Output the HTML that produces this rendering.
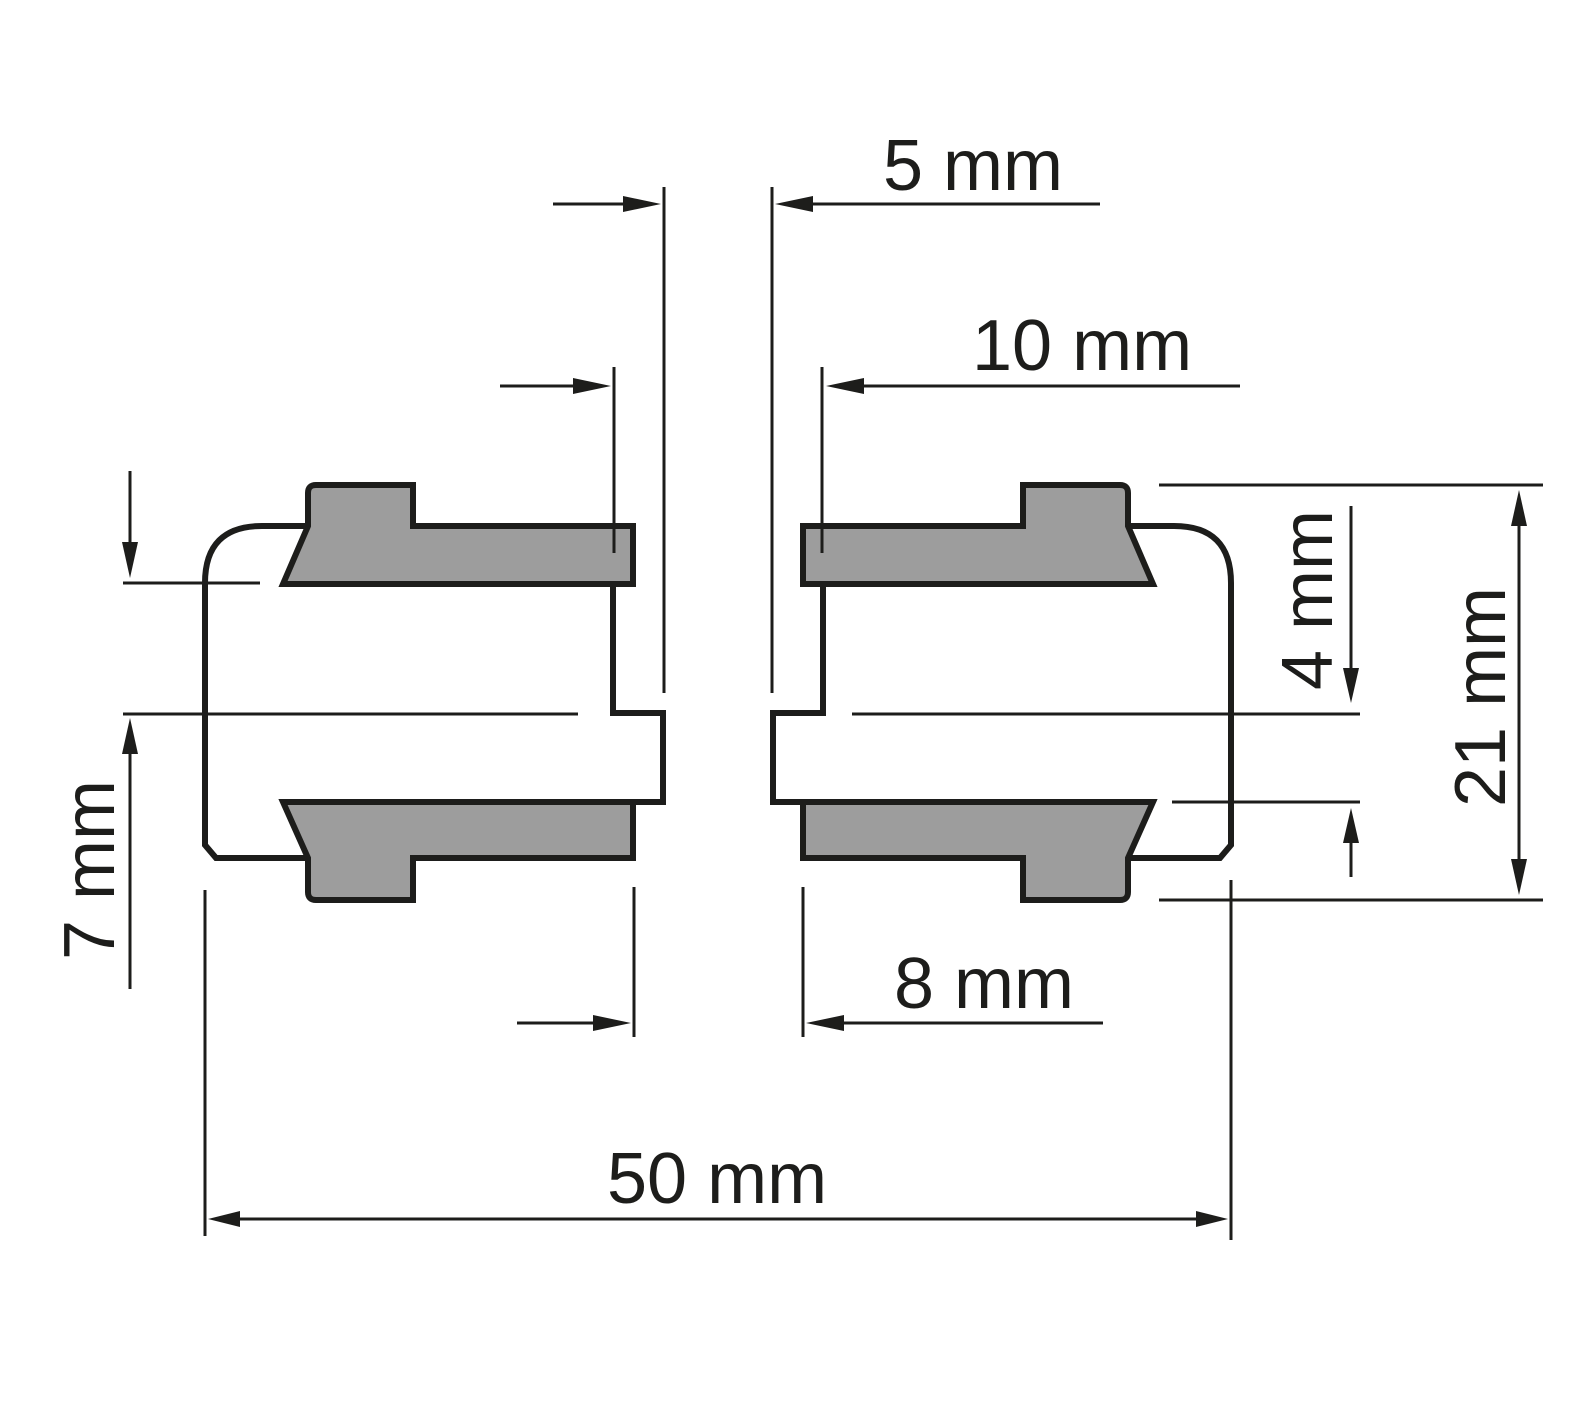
<!DOCTYPE html>
<html><head><meta charset="utf-8"><style>html,body{margin:0;padding:0;background:#fff}svg{display:block}</style></head>
<body>
<svg width="1593" height="1416" viewBox="0 0 1593 1416" xmlns="http://www.w3.org/2000/svg">
<defs>
<g id="piece">
<path d="M316,485 L413,485 L413,526 L633,526 L633,584 L283,584 L308,526 L308,493 Q308,485 316,485 Z" fill="#9d9d9d" stroke="#1d1d1b" stroke-width="6" stroke-linejoin="miter"/>
<path d="M283,802 L633,802 L633,858 L413,858 L413,900 L316,900 Q308,900 308,892 L308,858 Z" fill="#9d9d9d" stroke="#1d1d1b" stroke-width="6"/>
<path d="M308,526 L262,526 Q205,526 205,583 L205,845 L216,858 L308,858" fill="none" stroke="#1d1d1b" stroke-width="6"/>
<path d="M613,584 L613,713 L663,713 L663,802 L633,802" fill="none" stroke="#1d1d1b" stroke-width="6"/>
</g>
</defs>
<use href="#piece"/>
<use href="#piece" transform="translate(1436,0) scale(-1,1)"/>
<g stroke="#1d1d1b" stroke-width="3" fill="none">
<!-- center & extension lines -->
<line x1="123" y1="714" x2="578" y2="714"/>
<line x1="852" y1="714" x2="1360" y2="714"/>
<line x1="123" y1="583" x2="260" y2="583"/>
<line x1="1172" y1="802" x2="1360" y2="802"/>
<line x1="1159" y1="485" x2="1543" y2="485"/>
<line x1="1159" y1="900" x2="1543" y2="900"/>
<!-- verticals -->
<line x1="664" y1="187" x2="664" y2="693"/>
<line x1="772" y1="187" x2="772" y2="693"/>
<line x1="614" y1="367" x2="614" y2="553"/>
<line x1="822" y1="367" x2="822" y2="553"/>
<line x1="634" y1="887" x2="634" y2="1037"/>
<line x1="803" y1="887" x2="803" y2="1037"/>
<line x1="205" y1="890" x2="205" y2="1236"/>
<line x1="1231" y1="880" x2="1231" y2="1240"/>
<!-- dim lines -->
<line x1="553" y1="204" x2="640" y2="204"/>
<line x1="790" y1="204" x2="1100" y2="204"/>
<line x1="500" y1="386" x2="590" y2="386"/>
<line x1="840" y1="386" x2="1240" y2="386"/>
<line x1="517" y1="1023" x2="615" y2="1023"/>
<line x1="820" y1="1023" x2="1103" y2="1023"/>
<line x1="225" y1="1219" x2="1210" y2="1219"/>
<line x1="130" y1="471" x2="130" y2="560"/>
<line x1="130" y1="740" x2="130" y2="989"/>
<line x1="1351" y1="506" x2="1351" y2="685"/>
<line x1="1351" y1="825" x2="1351" y2="877"/>
<line x1="1519" y1="510" x2="1519" y2="875"/>
</g>
<g fill="#1d1d1b">
<polygon points="661,204 623,196 623,212"/>
<polygon points="775,204 813,196 813,212"/>
<polygon points="611,386 573,378 573,394"/>
<polygon points="826,386 864,378 864,394"/>
<polygon points="631,1023 593,1015 593,1031"/>
<polygon points="806,1023 844,1015 844,1031"/>
<polygon points="208,1219 240,1211 240,1227"/>
<polygon points="1228,1219 1196,1211 1196,1227"/>
<polygon points="130,578 122,542 138,542"/>
<polygon points="130,718 122,754 138,754"/>
<polygon points="1351,703 1343,668 1359,668"/>
<polygon points="1351,808 1343,843 1359,843"/>
<polygon points="1519,490 1511,526 1527,526"/>
<polygon points="1519,895 1511,859 1527,859"/>
</g>
<g font-family="Liberation Sans, Arial, sans-serif" font-size="72" fill="#1d1d1b">
<text x="883" y="190">5 mm</text>
<text x="972" y="370">10 mm</text>
<text x="894" y="1008">8 mm</text>
<text x="607" y="1203">50 mm</text>
<text transform="translate(114,870) rotate(-90)" text-anchor="middle">7 mm</text>
<text transform="translate(1332,600) rotate(-90)" text-anchor="middle">4 mm</text>
<text transform="translate(1505,697) rotate(-90)" text-anchor="middle">21 mm</text>
</g>
</svg>
</body></html>
